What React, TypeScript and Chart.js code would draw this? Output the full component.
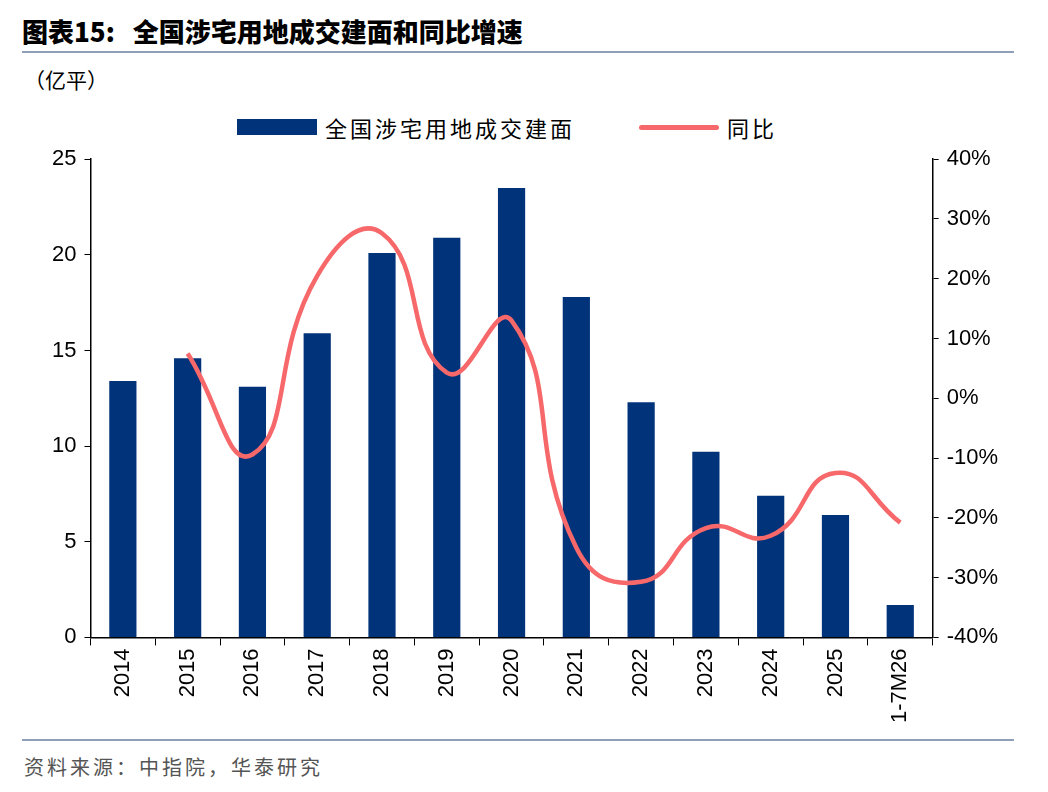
import React, { useEffect, useRef } from "react";
import { Chart, registerables } from "chart.js";
Chart.register(...registerables);

const categories = ["2014","2015","2016","2017","2018","2019","2020","2021","2022","2023","2024","2025","1-7M26"];
const areaValues = [13.4,14.6,13.1,15.9,20.1,20.9,23.5,17.8,12.3,9.7,7.4,6.4,1.7];
const yoyValues = [null,7.5,-9.4,20.5,27.6,4.3,13,-25,-30.7,-21.7,-23,-12.5,-20.8];

const FONT = "Arial, 'Liberation Sans', sans-serif";
const CJK = "'Noto Sans CJK SC', sans-serif";

export default function App() {
  const ref = useRef<HTMLCanvasElement>(null);
  useEffect(() => {
    document.body.style.margin = "0";
    const chart = new Chart(ref.current!, {
      type: "bar",
      data: {
        labels: categories,
        datasets: [
          { type: "line", label: "同比", data: yoyValues as any, yAxisID: "y1", borderColor: "#f7686b", borderWidth: 4.5, pointRadius: 0, tension: 0.5, fill: false, order: 0 },
          { type: "bar", label: "全国涉宅用地成交建面", data: areaValues, yAxisID: "y", backgroundColor: "#00337a", barPercentage: 0.42, categoryPercentage: 1, order: 1 },
        ],
      },
      options: {
        animation: false,
        responsive: false,
        layout: { padding: { left: 44, right: 42, top: 4, bottom: 12 } },
        plugins: { legend: { display: false }, tooltip: { enabled: false } },
        scales: {
          x: {
            grid: { display: true, drawOnChartArea: false, offset: true, tickLength: 8, color: "#000" },
            border: { color: "#000", width: 1.5 },
            ticks: { minRotation: 90, maxRotation: 90, color: "#000", font: { size: 22, family: FONT } },
          },
          y: {
            min: 0, max: 25,
            ticks: { stepSize: 5, color: "#000", font: { size: 22, family: FONT }, padding: 8 },
            grid: { drawOnChartArea: false, tickLength: 6, color: "#000" },
            border: { color: "#000", width: 1.5 },
          },
          y1: {
            position: "right", min: -40, max: 40,
            ticks: { stepSize: 10, color: "#000", font: { size: 22, family: FONT }, callback: (v: any) => v + "%", padding: 8 },
            grid: { drawOnChartArea: false, tickLength: 6, color: "#000" },
            border: { color: "#000", width: 1.5 },
          },
        },
      },
    });
    return () => chart.destroy();
  }, []);
  return (
    <div style={{ position: "relative", width: 1048, height: 792, background: "#fff", fontFamily: CJK }}>
      <div style={{ position: "absolute", left: 22, top: 12, fontSize: 26, fontWeight: 900, color: "#000" }}>
        图表15:&nbsp;&nbsp;&nbsp;全国涉宅用地成交建面和同比增速
      </div>
      <div style={{ position: "absolute", left: 22, right: 34, top: 51, height: 2, background: "#8ea0b8" }} />
      <div style={{ position: "absolute", left: 24, top: 64, fontSize: 21 }}>（亿平）</div>
      <div style={{ position: "absolute", left: 237, top: 111, fontSize: 22, display: "flex", alignItems: "center" }}>
        <span style={{ display: "inline-block", width: 80, height: 16, background: "#00337a", marginRight: 8 }} />
        <span style={{ letterSpacing: 3 }}>全国涉宅用地成交建面</span>
        <span style={{ display: "inline-block", width: 80, height: 5, background: "#f7686b", marginLeft: 64, marginRight: 8, borderRadius: 3 }} />
        <span style={{ letterSpacing: 3 }}>同比</span>
      </div>
      <canvas ref={ref} width={1048} height={600} style={{ position: "absolute", left: 0, top: 138 }} />
      <div style={{ position: "absolute", left: 22, right: 34, top: 739, height: 2, background: "#8ea0b8" }} />
      <div style={{ position: "absolute", left: 24, top: 752, fontSize: 20, color: "#555", letterSpacing: 3 }}>资料来源：中指院，华泰研究</div>
    </div>
  );
}
